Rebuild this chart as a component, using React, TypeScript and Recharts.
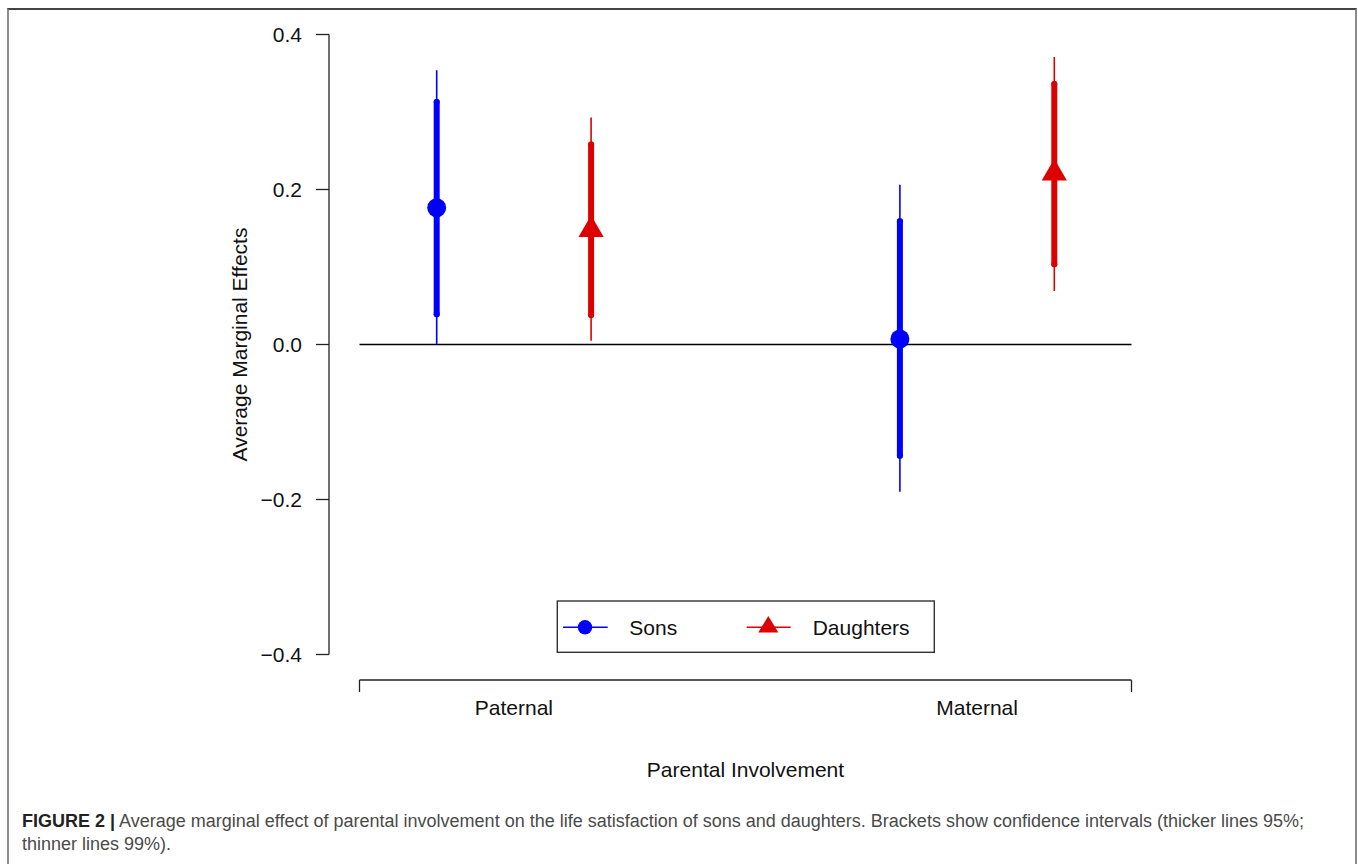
import React from 'react';
import { ComposedChart, Scatter, XAxis, YAxis, ErrorBar, ReferenceLine, Label } from 'recharts';

// ---------- data ----------
const categories = ['Paternal', 'Maternal'];
const seriesNames = ['Sons', 'Daughters'];

const sonsEstimate = [0.1765, 0.007];
const sonsCI95Low = [0.039, -0.1435];
const sonsCI95High = [0.313, 0.159];
const sonsCI99Low = [0.0, -0.19];
const sonsCI99High = [0.354, 0.206];

const daughtersEstimate = [0.148, 0.221];
const daughtersCI95Low = [0.038, 0.1035];
const daughtersCI95High = [0.258, 0.336];
const daughtersCI99Low = [0.005, 0.069];
const daughtersCI99High = [0.293, 0.371];

const yTicks = [-0.4, -0.2, 0, 0.2, 0.4];
const yTickLabels = ['\u22120.4', '\u22120.2', '0.0', '0.2', '0.4'];
const xAxisTitle = 'Parental Involvement';
const yAxisTitle = 'Average Marginal Effects';
const captionBold = 'FIGURE 2 |';
const captionLine1 =
  ' Average marginal effect of parental involvement on the life satisfaction of sons and daughters. Brackets show confidence intervals (thicker lines 95%;';
const captionLine2 = 'thinner lines 99%).';

// ---------- style / layout ----------
const BLUE = '#0000ff';
const RED = '#dd0000';
const FONT = '"Liberation Sans", Arial, Helvetica, sans-serif';
const W = 1358;
const H = 864;
const PLOT_LEFT = 329;
const PLOT_RIGHT = 1131.5;
const PLOT_TOP = 34.5;
const PLOT_BOTTOM = 654.5;
const Y_AXIS_W = 100;
const X_AXIS_H = 130;
const GROUP_STEP = 3;
const X_MIN = 0.3025;
const X_MAX = 5.5;
const BRACKET_Y = -0.4329;
const BRACKET_TICK_Y = -0.4484;

const buildSeries = (
  est: number[],
  lo95: number[],
  hi95: number[],
  lo99: number[],
  hi99: number[],
  offset: number
) =>
  categories.map((c, i) => ({
    name: c,
    x: i * GROUP_STEP + offset,
    y: est[i],
    e95: [est[i] - lo95[i], hi95[i] - est[i]],
    e99: [est[i] - lo99[i], hi99[i] - est[i]],
  }));

const sonsData = buildSeries(sonsEstimate, sonsCI95Low, sonsCI95High, sonsCI99Low, sonsCI99High, 1);
const daughtersData = buildSeries(
  daughtersEstimate,
  daughtersCI95Low,
  daughtersCI95High,
  daughtersCI99Low,
  daughtersCI99High,
  2
);
const xTicks = categories.map((c, i) => i * GROUP_STEP + 1.5);

const CircleShape = (props: any) => <circle cx={props.cx} cy={props.cy} r={9.5} fill={BLUE} />;
const TriangleShape = (props: any) => {
  const { cx, cy } = props;
  const hw = 12.6;
  return (
    <polygon
      points={`${cx},${cy - 14.5} ${cx + hw},${cy + 7.3} ${cx - hw},${cy + 7.3}`}
      fill={RED}
    />
  );
};

const axisStroke = '#222';

export default function App() {
  return (
    <div
      style={{
        position: 'absolute',
        left: 0,
        top: 0,
        width: W,
        height: H,
        overflow: 'hidden',
        background: '#fff',
        fontFamily: FONT,
      }}
    >
      {/* figure frame */}
      <div
        style={{
          position: 'absolute',
          left: 7,
          top: 8,
          width: 1346,
          height: 1000,
          borderTop: '2px solid #444',
          borderLeft: '2px solid #8c8c8c',
          borderRight: '2px solid #8c8c8c',
        }}
      />
      <div style={{ position: 'absolute', left: 0, top: 0 }}>
        <ComposedChart
          width={W}
          height={H}
          margin={{
            top: PLOT_TOP,
            right: W - PLOT_RIGHT,
            left: PLOT_LEFT - Y_AXIS_W,
            bottom: H - PLOT_BOTTOM - X_AXIS_H,
          }}
          style={{ fontFamily: FONT }}
        >
          <XAxis
            type="number"
            dataKey="x"
            domain={[X_MIN, X_MAX]}
            allowDataOverflow
            ticks={xTicks}
            interval={0}
            tickFormatter={(v: number) => categories[Math.round((v - 1.5) / GROUP_STEP)]}
            axisLine={false}
            tickLine={false}
            tickSize={0}
            tickMargin={46}
            height={X_AXIS_H}
            tick={{ fill: '#111', fontSize: 21, fontFamily: FONT }}
          >
            <Label
              content={() => (
                <text
                  x={(359.5 + PLOT_RIGHT) / 2}
                  y={777}
                  textAnchor="middle"
                  fontSize={21}
                  fill="#111"
                  fontFamily={FONT}
                >
                  {xAxisTitle}
                </text>
              )}
            />
          </XAxis>
          <YAxis
            type="number"
            dataKey="y"
            domain={[-0.4, 0.4]}
            allowDataOverflow
            ticks={yTicks}
            interval={0}
            width={Y_AXIS_W}
            tickFormatter={(v: number) => yTickLabels[yTicks.findIndex((t) => Math.abs(t - v) < 1e-9)]}
            tickSize={13}
            tickMargin={14}
            axisLine={{ stroke: axisStroke, strokeWidth: 1.3 }}
            tickLine={{ stroke: axisStroke, strokeWidth: 1.3 }}
            tick={{ fill: '#111', fontSize: 21, fontFamily: FONT }}
          >
            <Label
              content={() => (
                <text
                  x={246.5}
                  y={(PLOT_TOP + PLOT_BOTTOM) / 2}
                  transform={`rotate(-90, 246.5, ${(PLOT_TOP + PLOT_BOTTOM) / 2})`}
                  textAnchor="middle"
                  fontSize={21}
                  fill="#111"
                  fontFamily={FONT}
                >
                  {yAxisTitle}
                </text>
              )}
            />
          </YAxis>

          {/* zero line */}
          <ReferenceLine
            segment={[
              { x: 0.5, y: 0 },
              { x: X_MAX, y: 0 },
            ]}
            stroke="#000"
            strokeWidth={1.4}
            ifOverflow="visible"
          />
          {/* category bracket */}
          <ReferenceLine
            segment={[
              { x: 0.5, y: BRACKET_Y },
              { x: X_MAX, y: BRACKET_Y },
            ]}
            stroke={axisStroke}
            strokeWidth={1.3}
            ifOverflow="visible"
          />
          <ReferenceLine
            segment={[
              { x: 0.5, y: BRACKET_Y },
              { x: 0.5, y: BRACKET_TICK_Y },
            ]}
            stroke={axisStroke}
            strokeWidth={1.3}
            ifOverflow="visible"
          />
          <ReferenceLine
            segment={[
              { x: X_MAX, y: BRACKET_Y },
              { x: X_MAX, y: BRACKET_TICK_Y },
            ]}
            stroke={axisStroke}
            strokeWidth={1.3}
            ifOverflow="visible"
          />

          <Scatter
            name={seriesNames[0]}
            data={sonsData}
            dataKey="y"
            shape={CircleShape}
            isAnimationActive={false}
          >
            <ErrorBar dataKey="e99" direction="y" width={0} stroke={BLUE} strokeWidth={1.6} isAnimationActive={false} />
            <ErrorBar
              dataKey="e95"
              direction="y"
              width={0}
              stroke={BLUE}
              strokeWidth={6}
              strokeLinecap="round"
              isAnimationActive={false}
            />
          </Scatter>
          <Scatter
            name={seriesNames[1]}
            data={daughtersData}
            dataKey="y"
            shape={TriangleShape}
            isAnimationActive={false}
          >
            <ErrorBar dataKey="e99" direction="y" width={0} stroke={RED} strokeWidth={1.6} isAnimationActive={false} />
            <ErrorBar
              dataKey="e95"
              direction="y"
              width={0}
              stroke={RED}
              strokeWidth={6}
              strokeLinecap="round"
              isAnimationActive={false}
            />
          </Scatter>
        </ComposedChart>
      </div>

      {/* legend */}
      <svg
        width={390}
        height={65}
        style={{ position: 'absolute', left: 550, top: 595 }}
        fontFamily={FONT}
      >
        <rect x={7.3} y={6} width={377} height={51.3} fill="#fff" stroke="#333" strokeWidth={1.4} />
        <line x1={13} x2={57.7} y1={32.3} y2={32.3} stroke={BLUE} strokeWidth={1.6} />
        <circle cx={35} cy={32.3} r={7.2} fill={BLUE} />
        <text x={79.3} y={40} fontSize={21} fill="#111">
          {seriesNames[0]}
        </text>
        <line x1={196.7} x2={240.7} y1={32.3} y2={32.3} stroke={RED} strokeWidth={1.6} />
        <polygon points="218.3,21 228.3,37.5 208.3,37.5" fill={RED} />
        <text x={262.7} y={40} fontSize={21} fill="#111">
          {seriesNames[1]}
        </text>
      </svg>

      {/* caption */}
      <div
        style={{
          position: 'absolute',
          left: 22,
          top: 810,
          width: 1330,
          fontSize: 18,
          lineHeight: '23px',
          color: '#4a4a4a',
          fontFamily: FONT,
          whiteSpace: 'nowrap',
        }}
      >
        <span style={{ fontWeight: 'bold', color: '#222' }}>{captionBold}</span>
        {captionLine1}
        <br />
        {captionLine2}
      </div>
    </div>
  );
}
